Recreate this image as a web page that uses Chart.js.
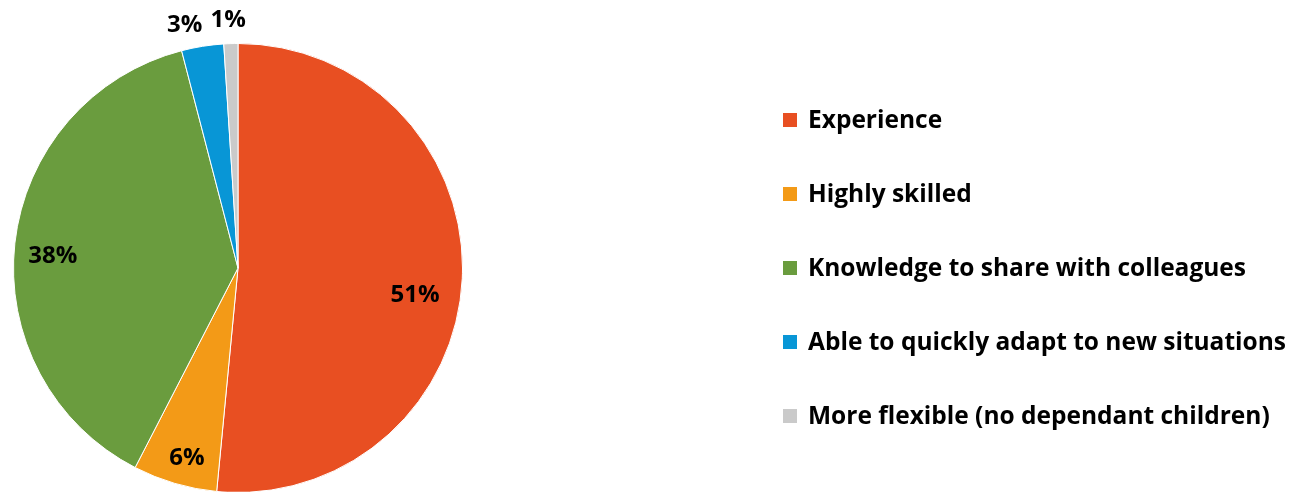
<!DOCTYPE html>
<html>
<head>
<meta charset="utf-8">
<script src="https://cdn.jsdelivr.net/npm/chart.js@4.4.1/dist/chart.umd.min.js"></script>
<style>
  html, body { margin: 0; padding: 0; background: #ffffff; overflow: hidden; }
  #wrap { position: relative; width: 1297px; height: 500px; }
</style>
</head>
<body>
<div id="wrap"><canvas id="pie" width="1297" height="500"></canvas></div>
<script>
// Reasons given, with share of responses (%)
const categories = [
  'Experience',
  'Highly skilled',
  'Knowledge to share with colleagues',
  'Able to quickly adapt to new situations',
  'More flexible (no dependant children)'
];
const shares = [51, 6, 38, 3, 1];
const sliceColors = ['#E84F22', '#F39A17', '#6A9C3E', '#0896D6', '#CACACA'];

const FONT = '"Open Sans", "DejaVu Sans", sans-serif';

// Percent labels: inside the big slices, outside for the thin ones
const sliceLabels = {
  id: 'sliceLabels',
  afterDatasetsDraw(chart) {
    const ctx = chart.ctx;
    const meta = chart.getDatasetMeta(0);
    const inside = [0.79, 0.87, 0.83, null, null];
    const nudge = [[0, 19], [4, 3], [0, 9], [-14, 3], [-2, 1]];
    ctx.save();
    ctx.font = 'bold 24px ' + FONT;
    ctx.fillStyle = '#000000';
    ctx.textAlign = 'center';
    ctx.textBaseline = 'middle';
    meta.data.forEach((arc, i) => {
      const p = arc.getProps(['x', 'y', 'startAngle', 'endAngle', 'outerRadius'], true);
      const mid = (p.startAngle + p.endAngle) / 2;
      const r = inside[i] != null ? p.outerRadius * inside[i] : p.outerRadius + 24;
      const x = p.x + Math.cos(mid) * r + nudge[i][0];
      const y = p.y + Math.sin(mid) * r + nudge[i][1];
      ctx.fillText(shares[i] + '%', x, y);
    });
    ctx.restore();
  }
};

// Legend column on the right
const sideLegend = {
  id: 'sideLegend',
  afterDraw(chart) {
    const ctx = chart.ctx;
    const x0 = 783, y0 = 120, step = 74, box = 14;
    ctx.save();
    ctx.font = 'bold 24.5px ' + FONT;
    ctx.textAlign = 'left';
    ctx.textBaseline = 'middle';
    chart.data.labels.forEach((label, i) => {
      const y = y0 + i * step;
      ctx.fillStyle = chart.data.datasets[0].backgroundColor[i];
      ctx.fillRect(x0, y - box / 2, box, box);
      ctx.fillStyle = '#000000';
      ctx.fillText(label, x0 + 25, y + 1);
    });
    ctx.restore();
  }
};

new Chart(document.getElementById('pie'), {
  type: 'pie',
  data: {
    labels: categories,
    datasets: [{
      data: shares,
      backgroundColor: sliceColors,
      borderColor: '#ffffff',
      borderWidth: 1
    }]
  },
  options: {
    responsive: false,
    animation: false,
    layout: { padding: { left: 13, right: 834, top: 43, bottom: 7 } },
    plugins: {
      legend: { display: false },
      tooltip: { enabled: false }
    }
  },
  plugins: [sliceLabels, sideLegend]
});
</script>
</body>
</html>
